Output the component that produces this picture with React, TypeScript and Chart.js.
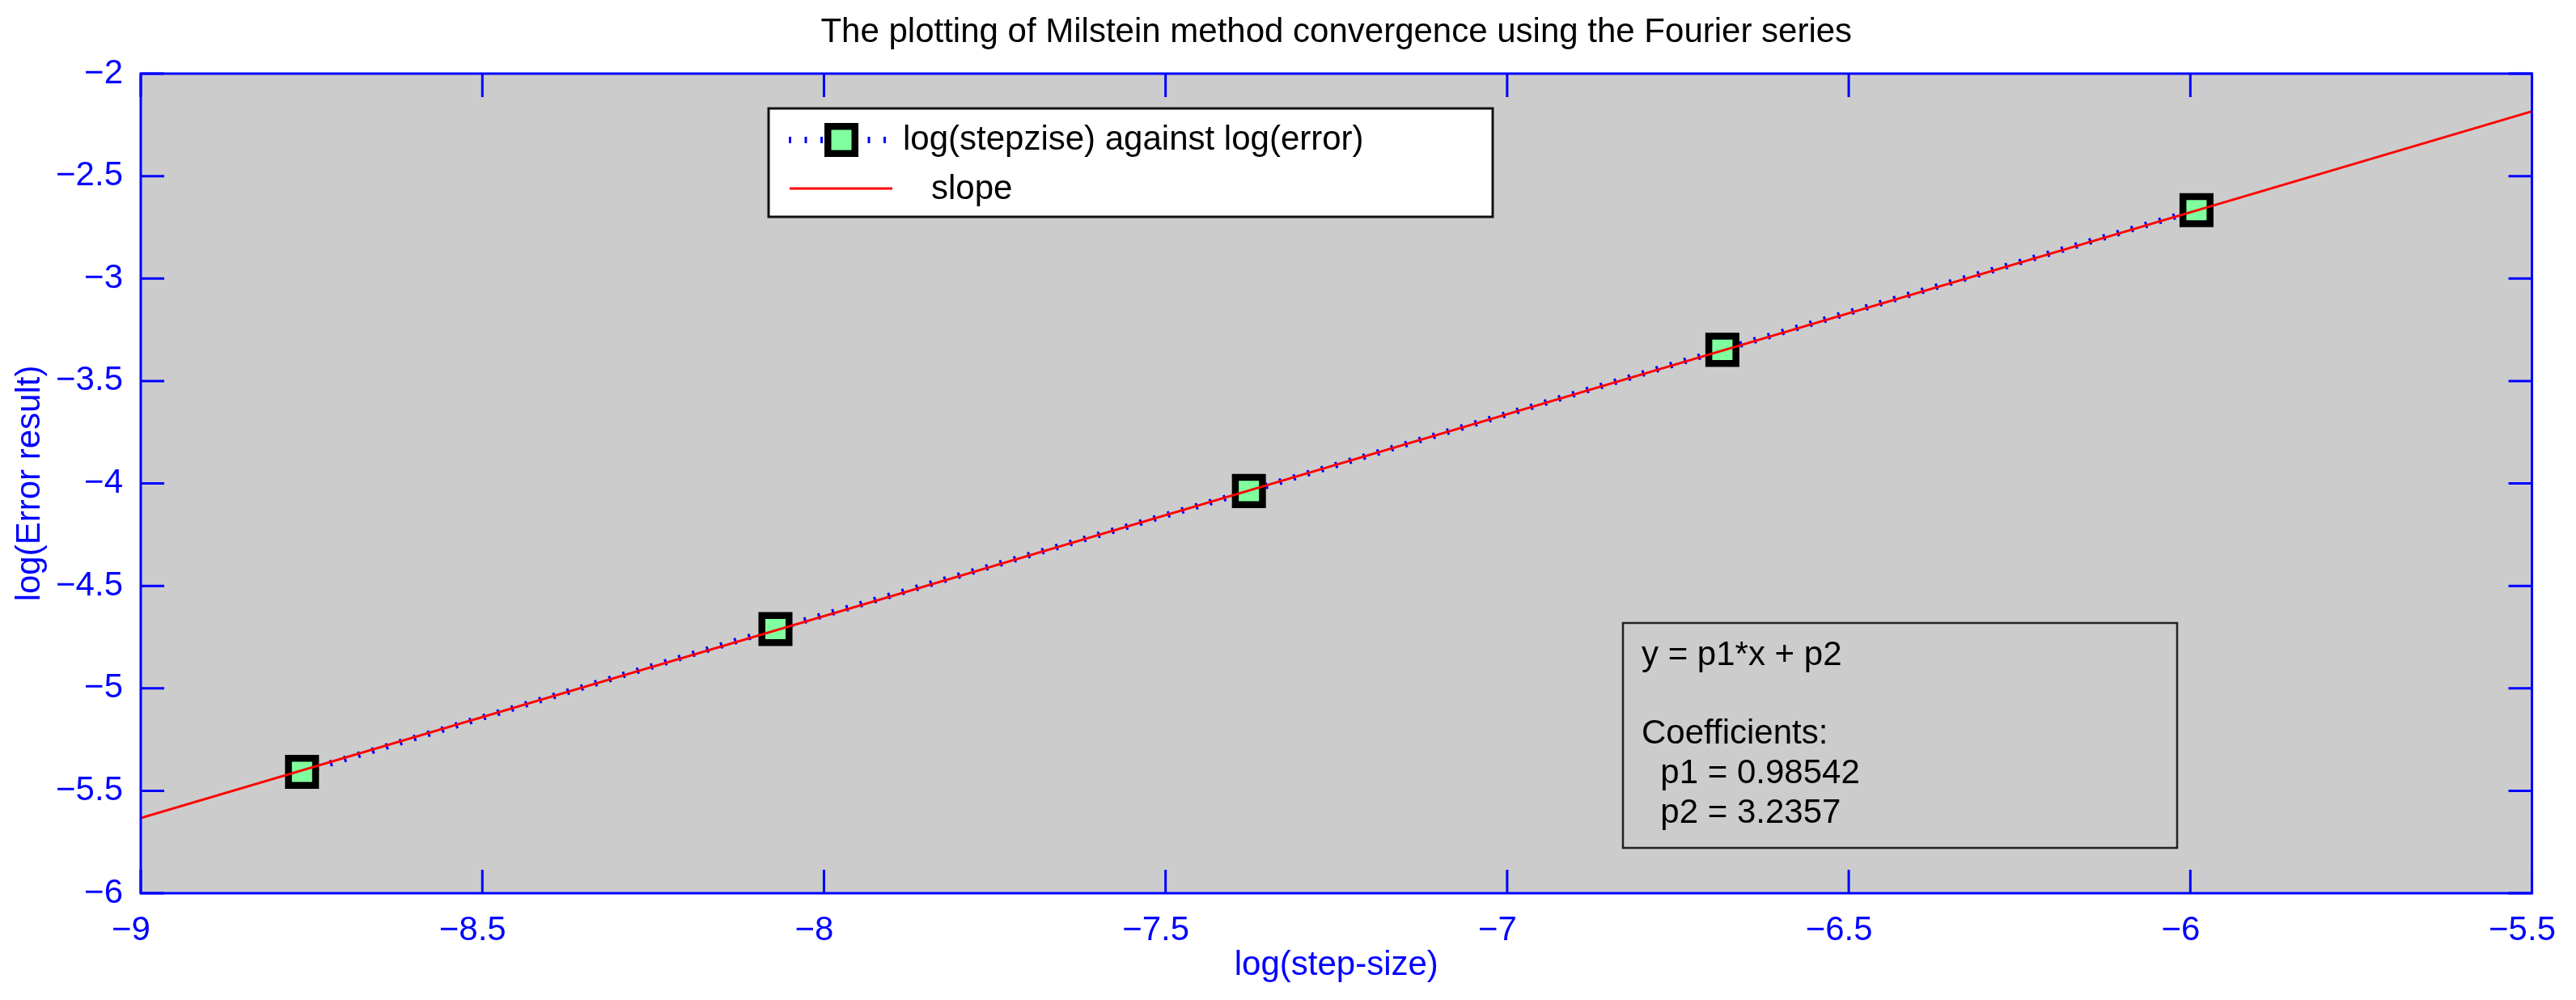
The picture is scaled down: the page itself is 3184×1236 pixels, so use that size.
import React, { useEffect, useRef } from 'react';
import { Chart, registerables } from 'chart.js';

Chart.register(...registerables);

// ---- data ----
const stepLogs = [-8.764, -8.071, -7.378, -6.685, -5.991];
const errorLogs = [-5.408, -4.711, -4.037, -3.348, -2.666];
const slopeX = [-9, -5.5];
const slopeY = [-5.633, -2.184];

const chartTitle = 'The plotting of Milstein method convergence using the Fourier series';
const xLabel = 'log(step-size)';
const yLabel = 'log(Error result)';
const legendLabels = ['log(stepzise) against log(error)', 'slope'];
const fitLines = ['y = p1*x + p2', '', 'Coefficients:', '  p1 = 0.98542', '  p2 = 3.2357'];

const FONT = '"Liberation Sans", Arial, Helvetica, sans-serif';
const BLUE = '#0000FF';
const RED = '#FF0000';
const GREEN = '#80FF9F';
const PLOT_BG = '#CCCCCC';

const fmt = (v: number) => String(Math.round(v * 10) / 10).replace('-', '\u2212');

const bgPlugin = {
  id: 'plotBg',
  beforeDraw(chart: any) {
    const { ctx, chartArea: a } = chart;
    ctx.save();
    ctx.fillStyle = PLOT_BG;
    ctx.fillRect(a.left, a.top, a.right - a.left, a.bottom - a.top);
    ctx.restore();
  },
};

const axesPlugin = {
  id: 'axesBox',
  afterDatasetsDraw(chart: any) {
    const { ctx, chartArea: a, scales } = chart;
    const sx = scales.x;
    const sy = scales.y;
    const tl = 29;
    ctx.save();
    ctx.strokeStyle = BLUE;
    ctx.lineWidth = 3;
    ctx.beginPath();
    sx.ticks.forEach((t: any) => {
      const px = sx.getPixelForValue(t.value);
      ctx.moveTo(px, a.bottom);
      ctx.lineTo(px, a.bottom - tl);
      ctx.moveTo(px, a.top);
      ctx.lineTo(px, a.top + tl);
    });
    sy.ticks.forEach((t: any) => {
      const py = sy.getPixelForValue(t.value);
      ctx.moveTo(a.left, py);
      ctx.lineTo(a.left + tl, py);
      ctx.moveTo(a.right, py);
      ctx.lineTo(a.right - tl, py);
    });
    ctx.stroke();
    ctx.strokeRect(a.left, a.top, a.right - a.left, a.bottom - a.top);
    ctx.restore();
  },
};

const overlayPlugin = {
  id: 'overlays',
  afterDraw(chart: any) {
    const { ctx } = chart;
    ctx.save();
    // legend box
    ctx.fillStyle = '#FFFFFF';
    ctx.fillRect(950, 134, 895, 134);
    ctx.strokeStyle = '#111111';
    ctx.lineWidth = 3;
    ctx.strokeRect(950, 134, 895, 134);
    // row 1: dotted blue line + marker
    ctx.strokeStyle = BLUE;
    ctx.lineWidth = 8;
    ctx.setLineDash([3, 16.5]);
    ctx.beginPath();
    ctx.moveTo(975, 173);
    ctx.lineTo(1096, 173);
    ctx.stroke();
    ctx.setLineDash([]);
    ctx.fillStyle = '#000000';
    ctx.fillRect(1019, 152, 42, 42);
    ctx.fillStyle = GREEN;
    ctx.fillRect(1027.5, 160.5, 25, 25);
    // row 2: red line
    ctx.strokeStyle = RED;
    ctx.lineWidth = 3;
    ctx.beginPath();
    ctx.moveTo(976, 233);
    ctx.lineTo(1103, 233);
    ctx.stroke();
    ctx.fillStyle = '#000000';
    ctx.font = `42px ${FONT}`;
    ctx.textBaseline = 'middle';
    ctx.textAlign = 'left';
    ctx.fillText(legendLabels[0], 1116, 173);
    ctx.fillText(legendLabels[1], 1151, 234);

    // fit text box
    ctx.strokeStyle = '#222222';
    ctx.lineWidth = 2.5;
    ctx.strokeRect(2006, 770, 685, 278);
    ctx.textBaseline = 'alphabetic';
    fitLines.forEach((line, i) => {
      if (line) ctx.fillText(line, 2029, 822 + i * 48.7);
    });
    ctx.restore();
  },
};

export default function App() {
  const ref = useRef<HTMLCanvasElement>(null);

  useEffect(() => {
    const tickFont = { family: FONT, size: 42, weight: 'normal' as const, lineHeight: 1.2 };
    const chart = new Chart(ref.current as HTMLCanvasElement, {
      type: 'scatter',
      data: {
        datasets: [
          {
            label: legendLabels[1],
            data: slopeX.map((x, i) => ({ x, y: slopeY[i] })),
            showLine: true,
            borderColor: RED,
            borderWidth: 3,
            pointRadius: 0,
            tension: 0,
            order: 0,
          },
          {
            label: legendLabels[0],
            data: stepLogs.map((x, i) => ({ x, y: errorLogs[i] })),
            showLine: true,
            borderColor: BLUE,
            borderWidth: 8,
            borderDash: [3, 15],
            tension: 0,
            pointStyle: 'rect',
            pointRadius: 23.7,
            pointBorderWidth: 8.5,
            pointBackgroundColor: GREEN,
            pointBorderColor: '#000000',
            order: 1,
          },
        ],
      },
      options: {
        responsive: false,
        animation: false,
        events: [],
        layout: { padding: { left: 0, right: 48, top: 0, bottom: 0 } },
        plugins: {
          legend: { display: false },
          tooltip: { enabled: false },
          title: {
            display: true,
            text: chartTitle,
            color: '#000000',
            fullSize: false,
            font: { family: FONT, size: 42, weight: 'normal', lineHeight: 1.2 },
            padding: { top: 15, bottom: 25.6 },
          },
        },
        scales: {
          x: {
            type: 'linear',
            min: -9,
            max: -5.5,
            grid: { display: false },
            border: { display: false },
            ticks: {
              stepSize: 0.5,
              color: BLUE,
              font: tickFont,
              padding: 13,
              labelOffset: -12,
              maxRotation: 0,
              autoSkip: false,
              callback: (v: any) => fmt(Number(v)),
            },
            title: {
              display: true,
              text: xLabel,
              color: BLUE,
              font: tickFont,
              padding: { top: 0, bottom: 17 },
            },
            afterFit: (s: any) => {
              s.height = 132;
            },
          },
          y: {
            type: 'linear',
            min: -6,
            max: -2,
            grid: { display: false },
            border: { display: false },
            ticks: {
              stepSize: 0.5,
              color: BLUE,
              font: tickFont,
              padding: 14,
              autoSkip: false,
              callback: (v: any) => fmt(Number(v)),
            },
            title: {
              display: true,
              text: yLabel,
              color: BLUE,
              font: tickFont,
              padding: { top: 12, bottom: 0 },
            },
            afterFit: (s: any) => {
              s.width = 174;
            },
          },
        },
      },
      plugins: [bgPlugin, axesPlugin, overlayPlugin],
    } as any);
    return () => chart.destroy();
  }, []);

  return (
    <div style={{ position: 'fixed', left: 0, top: 0, width: 3184, height: 1236, background: '#FFFFFF' }}>
      <canvas ref={ref} width={3184} height={1236} style={{ display: 'block', width: 3184, height: 1236 }} />
    </div>
  );
}
